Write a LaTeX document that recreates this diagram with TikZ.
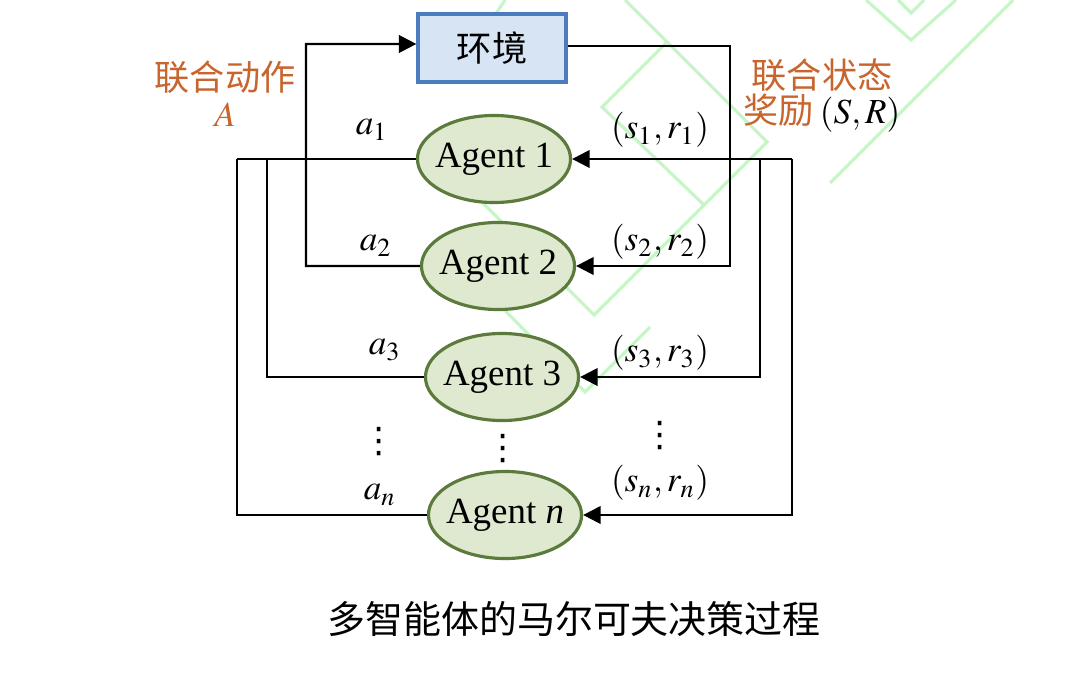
\documentclass[tikz,border=0pt]{standalone}
\usepackage{mathptmx}
\usepackage{fontspec}
\setmainfont{Liberation Serif}
\newfontfamily\cjk{Noto Sans CJK SC}
\newfontfamily\dotsfont{DejaVu Sans}
\usetikzlibrary{shapes.geometric, arrows.meta}
\definecolor{labelorange}{RGB}{200,100,45}
\definecolor{envfill}{RGB}{214,228,243}
\definecolor{envdraw}{RGB}{74,124,190}
\definecolor{agentfill}{RGB}{222,233,208}
\definecolor{agentdraw}{RGB}{92,122,60}
\definecolor{markgreen}{RGB}{200,245,200}
\tikzstyle{envbox} = [rectangle, minimum width=1.48cm, minimum height=0.68cm, text centered, draw=envdraw, fill=envfill, line width=0.9pt, font=\cjk\fontsize{10}{12}\selectfont]
\tikzstyle{agent} = [ellipse, minimum width=1.53cm, minimum height=0.87cm, inner xsep=-4pt, inner ysep=0pt, draw=agentdraw, fill=agentfill, line width=0.9pt, font=\fontsize{10.5}{12}\selectfont]
\tikzstyle{arrow} = [line width=0.7pt,-{Triangle[length=5pt,width=5pt]}]
\tikzstyle{wire} = [line width=0.7pt]
\tikzstyle{lab} = [font=\fontsize{10}{12}\selectfont]
\tikzstyle{vdot} = [inner sep=0pt, font=\dotsfont\fontsize{10}{12}\selectfont]
\tikzstyle{cjklab} = [text=labelorange, font=\cjk\fontsize{10}{12}\selectfont]

\begin{document}
\begin{tikzpicture}[x=0.01cm, y=-0.01cm]
        \useasboundingbox (0,0) rectangle (1080,676);
        % faint watermark lines
        \draw [markgreen, line width=0.9pt] (866,0) -- (911,40) -- (956,0);
        \draw [markgreen, line width=0.9pt] (898,0) -- (911,13) -- (924,0);
        \draw [markgreen, line width=0.9pt] (625,0) -- (767,142) -- (594,315) -- (470,190);
        \draw [markgreen, line width=0.9pt] (668,41) -- (602,107) -- (704,205);
        \draw [markgreen, line width=0.9pt] (480,285) -- (585,392) -- (650,327);
        \draw [markgreen, line width=0.9pt] (1013,0) -- (830,183);
        \draw [markgreen, line width=0.9pt] (505,0) -- (450,83);

        \node (env) [envbox] at (492,48) {环境};
        \node (agent1) [agent] at (494,159) {Agent 1};
        \node (agent2) [agent] at (498,266) {Agent 2};
        \node (agent3) [agent] at (502,377) {Agent 3};
        \node (agentn) [agent] at (505,515) {Agent \textit{n}};

        \coordinate (abus) at (237,159);
        \coordinate (abus3) at (267,159);
        \coordinate (sbus) at (792,159);
        \coordinate (sbus3) at (760,159);

        % joint action
        \draw [arrow] (agent2.west) -| (306,44) -- ([yshift=0.04cm]env.west);
        \draw [wire] (agent1.west) -- (abus);
        \draw [wire] (abus3) |- (agent3.west);
        \draw [wire] (abus) |- (agentn.west);

        % joint state and reward
        \draw [arrow] ([yshift=0.02cm]env.east) -| (730,266) -- (agent2.east);
        \draw [arrow] (sbus) -- (agent1.east);
        \draw [arrow] (sbus3) |- (agent3.east);
        \draw [arrow] (sbus) |- (agentn.east);

        \node (la1) [lab] at (372,130) {$a_1$};
        \node (la2) [lab] at (376,246) {$a_2$};
        \node (la3) [lab] at (385,350) {$a_3$};
        \node (lan) [lab] at (380,495) {$a_n$};
        \node (ls1) [lab] at (660,130) {$(s_1,r_1)$};
        \node (ls2) [lab] at (660,242) {$(s_2,r_2)$};
        \node (ls3) [lab] at (660,353) {$(s_3,r_3)$};
        \node (lsn) [lab] at (660,483) {$(s_n,r_n)$};
        \node (d1) [vdot] at (379,442) {⋮};
        \node (d2) [vdot] at (503,449) {⋮};
        \node (d3) [vdot] at (660,436) {⋮};

        \node (jointa) [cjklab] at (225,77) {联合动作};
        \node (jointaA) [lab, text=labelorange] at (225,115) {$A$};
        \node (joints) [cjklab] at (822,75) {联合状态};
        \node (jointr) [cjklab] at (822,113) {奖励\,\textcolor{black}{$(S,R)$}};

        \node (caption) [font=\cjk\fontsize{10.8}{13}\selectfont] at (574,619) {多智能体的马尔可夫决策过程};
    \end{tikzpicture}
\end{document}
